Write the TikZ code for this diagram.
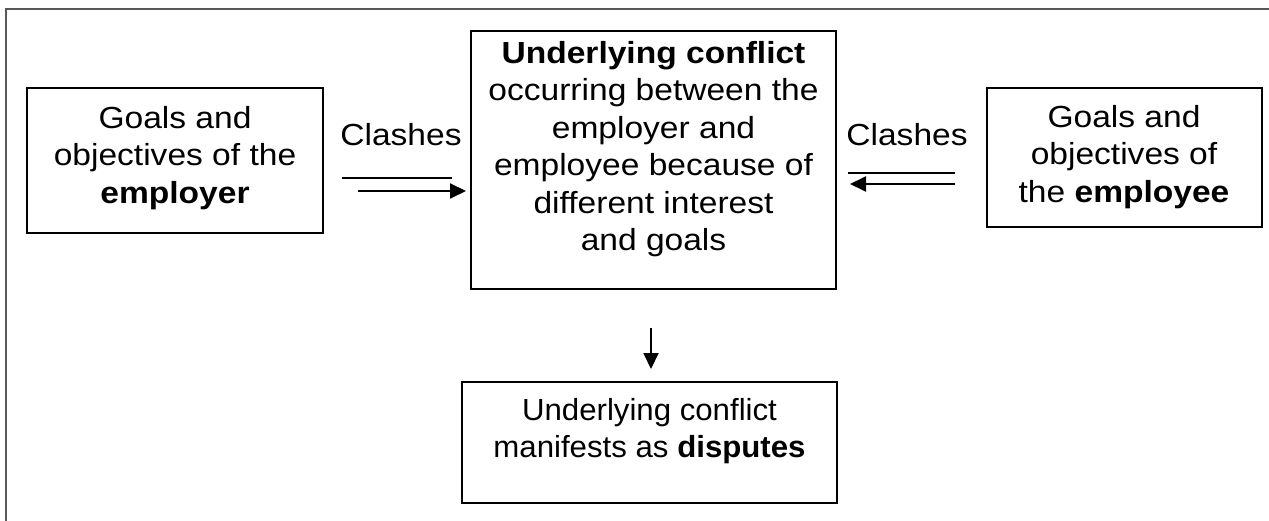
\documentclass[tikz,border=0pt]{standalone}
\usepackage{fontspec}
\setmainfont{Liberation Sans}
\usetikzlibrary{arrows.meta}
\begin{document}
\begin{tikzpicture}[x=1pt,y=-1pt,
  box/.style={draw=black, line width=2pt, inner sep=0pt},
  txt/.style={align=center, font=\fontsize{30.5}{37.5}\selectfont, inner sep=0pt, xscale=1.1},
  conn/.style={line width=2pt},
  arr/.style={conn, -{Triangle[length=16pt,width=15pt]}}]
\useasboundingbox (0,0) rectangle (1269,521);
% frame edges
\draw[line width=1.5pt, color=black!65] (6,521) -- (6,9) -- (1269,9);

% boxes
\node[box, minimum width=296pt, minimum height=145pt] (left) at (175,160.5) {};
\node[box, minimum width=275pt, minimum height=139pt] (right) at (1124.5,157.5) {};
\node[box, minimum width=365pt, minimum height=258pt] (mid) at (653.5,160) {};
\node[box, minimum width=375pt, minimum height=121pt] (bot) at (649.5,442.5) {};

% box texts
\node[txt] (lefttxt) at (175,158) {Goals and\\objectives of the\\\textbf{employer}};
\node[txt] (righttxt) at (1124,157) {Goals and\\objectives of\\the \textbf{employee}};
\node[txt] (midtxt) at (653.5,149) {\textbf{Underlying conflict}\\occurring between the\\employer and\\employee because of\\different interest\\and goals};
\node[txt, xscale=0.93] (bottxt) at (649.5,431) {Underlying conflict\\manifests as \textbf{disputes}};

% clash labels
\node[txt] (lclash) at (401,135) {Clashes};
\node[txt] (rclash) at (907,135) {Clashes};

% left double line
\coordinate (la1) at (342,178);
\coordinate (la1e) at (452,178);
\coordinate (la2) at (358,191);
\draw[conn] (la1) -- (la1e);
\draw[arr, shorten >=4pt] (la2) -- (mid.west |- la2);

% right double line
\coordinate (ra1) at (848,173);
\coordinate (ra1e) at (955,173);
\coordinate (ra2) at (955,184);
\draw[conn] (ra1) -- (ra1e);
\draw[arr, shorten >=13pt] (ra2) -- (mid.east |- ra2);

% downward arrow
\coordinate (dtop) at (651,328);
\draw[arr, shorten >=12pt] (dtop) -- (dtop |- bot.north);
\end{tikzpicture}
\end{document}
